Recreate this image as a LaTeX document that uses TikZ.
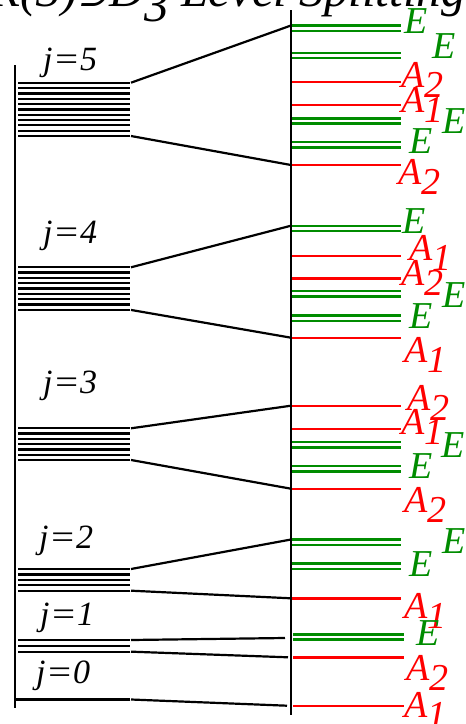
\documentclass[tikz,border=0pt]{standalone}
\usepackage{graphicx}
\usepackage{fontspec}
\setmainfont{Liberation Serif}
\newfontfamily\relfont[FakeSlant=0.2]{DejaVu Serif}
\definecolor{lvgreen}{RGB}{0,140,0}
\definecolor{lvred}{RGB}{255,0,0}
\tikzset{
  axisline/.style={line width=2.2pt, black},
  subline/.style={line width=2.3pt, black},
  link/.style={line width=2.2pt, black},
  levA/.style={line width=2.4pt, lvred},
  levE/.style={line width=2.4pt, lvgreen},
  jlab/.style={font=\fontsize{34}{34}\selectfont\itshape, inner sep=0pt, anchor=base west},
  rlab/.style={font=\fontsize{38}{38}\selectfont\itshape, inner sep=0pt, anchor=base west},
  alab/.style={rlab, text=lvred},
  elab/.style={rlab, text=lvgreen},
}
% irreducible representation label with a lowered index
\newcommand\irrep[2]{#1\raisebox{-10pt}{#2}}
% quantum number label j=n with a wide equals sign
\newcommand\jval[1]{j\scalebox{1.2}[1]{=}#1}
% a j-multiplet: name, number of sublevels, top y, spacing
\newcommand\multiplet[4]{%
  \foreach \k in {1,...,#2} {\draw[subline] (18,{#3+(\k-1)*#4}) -- (130,{#3+(\k-1)*#4});}
  \coordinate (#1t) at (131,#3);
  \coordinate (#1b) at (131,{#3+(#2-1)*#4});
}
% a non-degenerate level (A1, A2) and a doubly degenerate level (E)
\newcommand\levA[2]{\draw[levA] (292,#2) -- (401,#2); \coordinate (#1) at (291,#2);}
\newcommand\levE[2]{\draw[levE] (292,#2) -- (401,#2); \draw[levE] (292,{#2+5.3}) -- (401,{#2+5.3}); \coordinate (#1) at (291,#2);}
\begin{document}
\begin{tikzpicture}[x=1pt,y=-1pt]
\useasboundingbox (0,0) rectangle (466,724);

% title
\node[font=\fontsize{49}{49}\selectfont\itshape, inner sep=0pt, anchor=base east] (title) at (466,6)
  {R(3){\relfont\fontsize{38}{38}\selectfont ⊃}D\raisebox{-15pt}{3} Level Splitting};

% energy axes
\draw[axisline] (15,65) -- (15,708);
\draw[axisline] (291,10) -- (291,715);

% R(3) multiplets
\multiplet{m5}{11}{82.7}{5.33}
\multiplet{m4}{9}{267.3}{5.33}
\multiplet{m3}{7}{428.3}{5.28}
\multiplet{m2}{5}{569}{5.42}
\multiplet{m1}{3}{640}{5.83}
\draw[subline] (15,699.5) -- (130,699.5);
\coordinate (m0) at (131,699.5);

\node[jlab] (j5) at (43,70) {\jval{5}};
\node[jlab] (j4) at (43,243) {\jval{4}};
\node[jlab] (j3) at (43,393) {\jval{3}};
\node[jlab] (j2) at (39,548) {\jval{2}};
\node[jlab] (j1) at (40,625) {\jval{1}};
\node[jlab] (j0) at (36,683) {\jval{0}};

% D3 levels, j=5
\levE{r5a}{25.5}  \levE{r5b}{52.9}  \levA{r5c}{81.7}  \levA{r5d}{105}
\levE{r5e}{118.3} \levE{r5f}{142.2} \levA{r5g}{165}
\node[elab] (l5a) at (404,33) {E};
\node[elab] (l5b) at (432,58) {E};
\node[alab] (l5c) at (401,87) {\irrep{A}{2}};
\node[alab] (l5d) at (401,112) {\irrep{A}{1}};
\node[elab] (l5e) at (442,133) {E};
\node[elab] (l5f) at (409,153) {E};
\node[alab] (l5g) at (398,184) {\irrep{A}{2}};

% D3 levels, j=4
\levE{r4a}{225.7} \levA{r4b}{255.7} \levA{r4c}{278.3}
\levE{r4d}{291}   \levE{r4e}{315.5} \levA{r4f}{337.7}
\node[elab] (l4a) at (402,233) {E};
\node[alab] (l4b) at (409,260) {\irrep{A}{1}};
\node[alab] (l4c) at (401,285) {\irrep{A}{2}};
\node[elab] (l4d) at (442,307) {E};
\node[elab] (l4e) at (409,328) {E};
\node[alab] (l4f) at (404,362) {\irrep{A}{1}};

% D3 levels, j=3
\levA{r3a}{405.7} \levA{r3b}{428.7} \levE{r3c}{442}
\levE{r3d}{466}   \levA{r3e}{488.7}
\node[alab] (l3a) at (407,410) {\irrep{A}{2}};
\node[alab] (l3b) at (401,434) {\irrep{A}{1}};
\node[elab] (l3c) at (441,457) {E};
\node[elab] (l3d) at (409,478) {E};
\node[alab] (l3e) at (404,512) {\irrep{A}{2}};

% D3 levels, j=2
\levE{r2a}{539.5} \levE{r2b}{563.4} \levA{r2c}{598.3}
\node[elab] (l2a) at (442,553) {E};
\node[elab] (l2b) at (409,576) {E};
\node[alab] (l2c) at (404,618) {\irrep{A}{1}};

% D3 levels, j=1 and j=0
\draw[levE] (293,634.3) -- (404,634.3); \draw[levE] (293,639.6) -- (404,639.6);
\draw[levA] (293,657.3) -- (404,657.3);
\draw[levA] (293,705.7) -- (404,705.7);
\coordinate (r1a) at (285,638);
\coordinate (r1b) at (288,657.3);
\coordinate (r0a) at (287,705.7);
\node[elab] (l1a) at (416,645) {E};
\node[alab] (l1b) at (406,680) {\irrep{A}{2}};
\node[alab] (l0a) at (404,717) {\irrep{A}{1}};

% splitting fans
\draw[link] (m5t) -- (r5a);
\draw[link] (m5b) -- (r5g);
\draw[link] (m4t) -- (r4a);
\draw[link] (m4b) -- (r4f);
\draw[link] (m3t) -- (r3a);
\draw[link] (m3b) -- (r3e);
\draw[link] (m2t) -- (r2a);
\draw[link] (m2b) -- (r2c);
\draw[link] (m1t) -- (r1a);
\draw[link] (m1b) -- (r1b);
\draw[link] (m0) -- (r0a);
\end{tikzpicture}
\end{document}
